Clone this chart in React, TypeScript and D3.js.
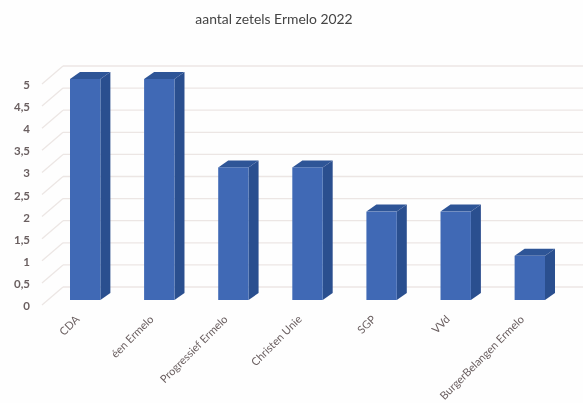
import React, { useEffect, useRef } from "react";
import * as d3 from "d3";

const partijen = [
  "CDA",
  "éen Ermelo",
  "Progressief Ermelo",
  "Christen Unie",
  "SGP",
  "VVd",
  "BurgerBelangen Ermelo",
];
const zetels = [5, 5, 3, 3, 2, 2, 1];
const tickWaarden = [0, 0.5, 1, 1.5, 2, 2.5, 3, 3.5, 4, 4.5, 5];
const titel = "aantal zetels Ermelo 2022";

const App: React.FC = () => {
  const svgRef = useRef<SVGSVGElement>(null);

  useEffect(() => {
    const width = 583;
    const height = 403;
    const svg = d3.select(svgRef.current);
    svg.selectAll("*").remove();

    const font = "Lato, 'Open Sans', sans-serif";

    // the source is a soft, scanned looking image
    svg
      .append("defs")
      .append("filter")
      .attr("id", "zacht")
      .append("feGaussianBlur")
      .attr("stdDeviation", 0.5);

    const root = svg.append("g").attr("filter", "url(#zacht)");

    root
      .append("rect")
      .attr("width", width)
      .attr("height", height)
      .attr("fill", "#fefefe");

    // Scales (front plane of the 3D chart)
    const x = d3
      .scaleBand<string>()
      .domain(partijen)
      .range([70, 545])
      .paddingInner(0.59)
      .paddingOuter(0);
    const y = d3.scaleLinear().domain([0, 5]).range([300, 79]);

    const wandDy = -13; // back wall offset
    const diepteX = 10; // bar depth
    const diepteY = -7;

    // Gridlines on the back wall and the slanted side wall
    const grid = root
      .append("g")
      .attr("stroke", "#ece6e4")
      .attr("stroke-width", 1.3)
      .attr("fill", "none");
    grid
      .selectAll("line.back")
      .data(tickWaarden)
      .join("line")
      .attr("class", "back")
      .attr("x1", 63)
      .attr("x2", width)
      .attr("y1", (d) => y(d) + wandDy)
      .attr("y2", (d) => y(d) + wandDy);
    grid
      .selectAll("line.side")
      .data(tickWaarden)
      .join("line")
      .attr("class", "side")
      .attr("x1", 42)
      .attr("x2", 63)
      .attr("y1", (d) => y(d) + wandDy + 18)
      .attr("y2", (d) => y(d) + wandDy);

    // Y axis labels
    const komma = d3.formatLocale({
      decimal: ",",
      thousands: ".",
      grouping: [3],
      currency: ["€", ""],
    });
    root
      .append("g")
      .selectAll("text")
      .data(tickWaarden)
      .join("text")
      .attr("x", 30)
      .attr("y", (d) => y(d) + 10)
      .attr("text-anchor", "end")
      .attr("font-family", font)
      .attr("font-size", 11.5)
      .attr("font-weight", 700)
      .attr("fill", "#6a5f60")
      .text((d) => komma.format("~g")(d));

    // Bars: side, top, front
    const bars = root
      .append("g")
      .selectAll("g")
      .data(partijen.map((p, i) => ({ partij: p, zetels: zetels[i] })))
      .join("g");
    const bw = x.bandwidth();

    bars
      .append("path")
      .attr("fill", "#2c4f8f")
      .attr("d", (d) => {
        const r = x(d.partij)! + bw;
        return d3.line()([
          [r, y(d.zetels)],
          [r + diepteX, y(d.zetels) + diepteY],
          [r + diepteX, y(0) + diepteY],
          [r, y(0)],
        ]) + "Z";
      });
    bars
      .append("path")
      .attr("fill", "#2f5597")
      .attr("d", (d) => {
        const l = x(d.partij)!;
        return d3.line()([
          [l, y(d.zetels)],
          [l + diepteX, y(d.zetels) + diepteY],
          [l + bw + diepteX, y(d.zetels) + diepteY],
          [l + bw, y(d.zetels)],
        ]) + "Z";
      });
    bars
      .append("rect")
      .attr("x", (d) => x(d.partij)!)
      .attr("y", (d) => y(d.zetels))
      .attr("width", bw)
      .attr("height", (d) => y(0) - y(d.zetels))
      .attr("fill", "#3f69b5");

    // Category labels
    root
      .append("g")
      .selectAll("text")
      .data(partijen)
      .join("text")
      .attr(
        "transform",
        (d) => `translate(${x(d)! + bw / 2 - 5},${y(0) + 20}) rotate(-45)`
      )
      .attr("text-anchor", "end")
      .attr("font-family", font)
      .attr("font-size", 11)
      .attr("fill", "#6a5f60")
      .text((d) => d);

    // Title
    root
      .append("text")
      .attr("x", 274)
      .attr("y", 24)
      .attr("text-anchor", "middle")
      .attr("font-family", font)
      .attr("font-size", 13.9)
      .attr("fill", "#444")
      .text(titel);
  }, []);

  return (
    <svg
      ref={svgRef}
      width={583}
      height={403}
      style={{ position: "absolute", left: 0, top: 0 }}
    />
  );
};

export default App;
